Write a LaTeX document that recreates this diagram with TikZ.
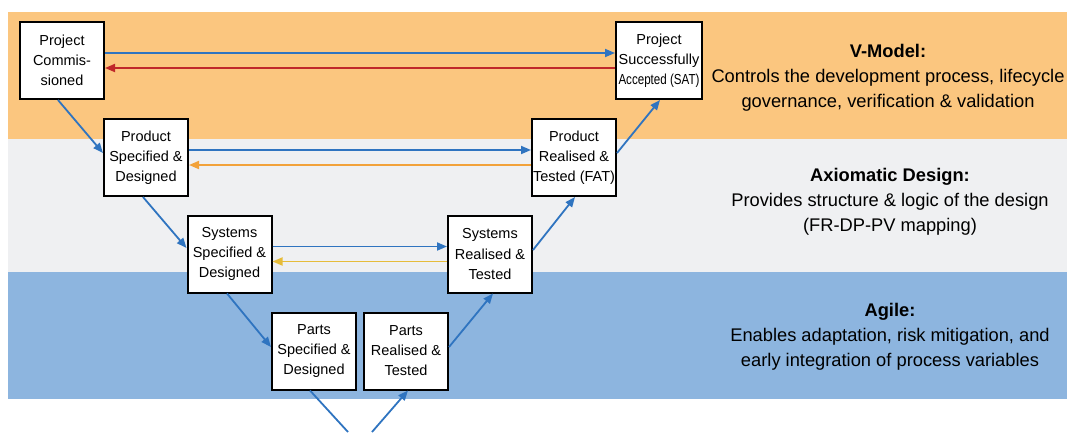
\documentclass[tikz,border=0pt]{standalone}
\usepackage{fontspec}
\setmainfont{Liberation Sans}
\usepackage{graphicx}
\usetikzlibrary{arrows.meta}

\definecolor{bandorange}{HTML}{FBC67F}
\definecolor{bandgrey}{HTML}{EFF0F2}
\definecolor{bandblue}{HTML}{8DB5DF}
\definecolor{flowblue}{HTML}{2F74C0}
\definecolor{flowred}{HTML}{C0282A}
\definecolor{floworange}{HTML}{F2A23A}
\definecolor{flowyellow}{HTML}{E6BC3A}

\tikzset{
  stage/.style={draw=black, line width=2pt, fill=white, minimum width=84pt,
    minimum height=77pt, inner sep=0pt, align=center,
    font=\fontsize{14.5}{20}\selectfont},
  flow/.style={line width=1.8pt, -{Triangle[length=10pt,width=8pt]}},
  note/.style={align=center, font=\fontsize{18.3}{25}\selectfont},
}

\begin{document}
\begin{tikzpicture}[x=1pt,y=-1pt]
\useasboundingbox (0,0) rectangle (1067,432);

% horizontal bands
\fill[bandorange] (8,12) rectangle (1067,139);
\fill[bandgrey] (8,139) rectangle (1067,272);
\fill[bandblue] (8,272) rectangle (1067,399);

% stages of the V
\node[stage] (pc)   at (62,60.5)  {Project\\Commis-\\sioned};
\node[stage] (psd)  at (146,157.5) {Product\\Specified \&\\Designed};
\node[stage] (ssd)  at (229.5,254) {Systems\\Specified \&\\Designed};
\node[stage] (ppsd) at (314,351)   {Parts\\Specified \&\\Designed};
\node[stage] (pprt) at (406,351)   {Parts\\Realised \&\\Tested};
\node[stage] (srt)  at (490,254)   {Systems\\Realised \&\\Tested};
\node[stage] (prt)  at (574,157.5) {Product\\Realised \&\\Tested (FAT)};
\node[stage, minimum width=86pt] (sat) at (659,60.5)
  {Project\\Successfully\\\scalebox{0.8}[1]{Accepted (SAT)}};

% free ends at the foot of the V
\coordinate (vl) at (348,432);
\coordinate (vr) at (372,432);

% horizontal links between matching levels
\draw[flow, flowblue] ([yshift=7.5pt]pc.east) -- ([yshift=7.5pt]sat.west);
\draw[flow, flowred] ([yshift=-7.5pt]sat.west) -- ([yshift=-7.5pt]pc.east);
\draw[flow, flowblue] ([yshift=7.5pt]psd.east) -- ([yshift=7.5pt]prt.west);
\draw[flow, floworange] ([yshift=-7.5pt]prt.west) -- ([yshift=-7.5pt]psd.east);
\draw[flow, flowblue] ([yshift=7.5pt]ssd.east) -- ([yshift=7.5pt]srt.west);
\draw[flow, flowyellow] ([yshift=-7.5pt]srt.west) -- ([yshift=-7.5pt]ssd.east);

% descending branch
\draw[flow, flowblue] ([xshift=-4pt]pc.south) -- ([yshift=4.5pt]psd.west);
\draw[flow, flowblue] ([xshift=-3pt]psd.south) -- ([yshift=6pt]ssd.west);
\draw[flow, flowblue] ([xshift=-2.5pt]ssd.south) -- ([yshift=4pt]ppsd.west);
\draw[line width=1.8pt, flowblue] ([xshift=-4pt]ppsd.south) -- (vl);

% ascending branch
\draw[flow, flowblue] (vr) -- ([xshift=2pt]pprt.south);
\draw[flow, flowblue] ([yshift=4pt]pprt.east) -- ([xshift=3pt]srt.south);
\draw[flow, flowblue] ([yshift=4pt]srt.east) -- ([xshift=1pt]prt.south);
\draw[flow, flowblue] ([yshift=4.5pt]prt.east) -- ([xshift=1pt]sat.south);

% descriptions of each band
\node[note] (vmodel) at (888,78)
  {\textbf{V-Model:}\\Controls the development process, lifecycle\\governance, verification \& validation};
\node[note] (axio) at (890,202)
  {\textbf{Axiomatic Design:}\\Provides structure \& logic of the design\\(FR-DP-PV mapping)};
\node[note] (agile) at (890,337)
  {\textbf{Agile:}\\Enables adaptation, risk mitigation, and\\early integration of process variables};
\end{tikzpicture}
\end{document}
